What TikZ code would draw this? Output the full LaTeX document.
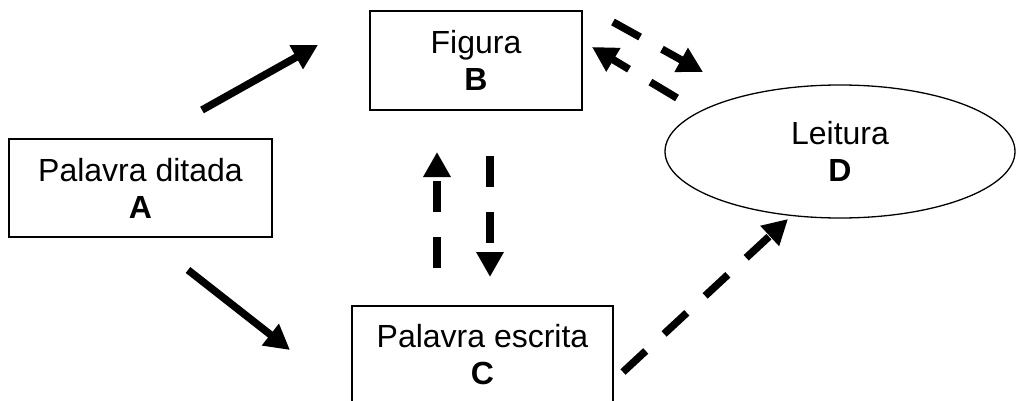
\documentclass[tikz,border=0pt]{standalone}
\usepackage{fontspec}
\setmainfont{Liberation Sans}
\usetikzlibrary{arrows.meta,shapes.geometric}
\tikzset{
  boxnode/.style={draw, line width=1.3pt, rectangle, inner sep=0pt, align=center, font=\fontsize{32}{37}\selectfont},
  ovalnode/.style={draw, line width=1.3pt, ellipse, inner sep=0pt, align=center, font=\fontsize{32}{37}\selectfont},
  solidarrow/.style={line width=7.5pt, -{Triangle[length=25pt,width=26pt]}},
  dasharrow/.style={line width=7.5pt, dash pattern=on 31pt off 25pt, -{Triangle[length=25pt,width=26pt]}}
}
\begin{document}
\begin{tikzpicture}[x=1pt,y=-1pt]
\useasboundingbox (0,0) rectangle (1016,401);
\clip (0,0) rectangle (1016,401);
\node[boxnode, minimum width=263pt, minimum height=98pt] (A) at (140.5,188) {Palavra ditada\\\textbf{A}};
\node[boxnode, minimum width=212pt, minimum height=99pt] (B) at (476,60.5) {Figura\\\textbf{B}};
\node[boxnode, minimum width=261pt, minimum height=97pt] (C) at (482.5,354.5) {Palavra escrita\\\textbf{C}};
\node[ovalnode, minimum width=350pt, minimum height=133pt] (D) at (840,151.5) {Leitura\\\textbf{D}};
\coordinate (ab1) at (202,110); \coordinate (ab2) at (318,45);
\coordinate (ac1) at (188,270); \coordinate (ac2) at (290,350);
\coordinate (bd1) at (613,22);  \coordinate (bd2) at (703,72);
\coordinate (db1) at (677,98);  \coordinate (db2) at (592,47);
\coordinate (cb1) at (437,268); \coordinate (cb2) at (437,152);
\coordinate (bc1) at (490,156); \coordinate (bc2) at (490,277);
\coordinate (cd1) at (623,372); \coordinate (cd2) at (788,219);
\draw[solidarrow] (ab1) -- (ab2);
\draw[solidarrow] (ac1) -- (ac2);
\draw[dasharrow] (bd1) -- (bd2);
\draw[dasharrow] (db1) -- (db2);
\draw[dasharrow] (cb1) -- (cb2);
\draw[dasharrow] (bc1) -- (bc2);
\draw[dasharrow] (cd1) -- (cd2);
\end{tikzpicture}
\end{document}
